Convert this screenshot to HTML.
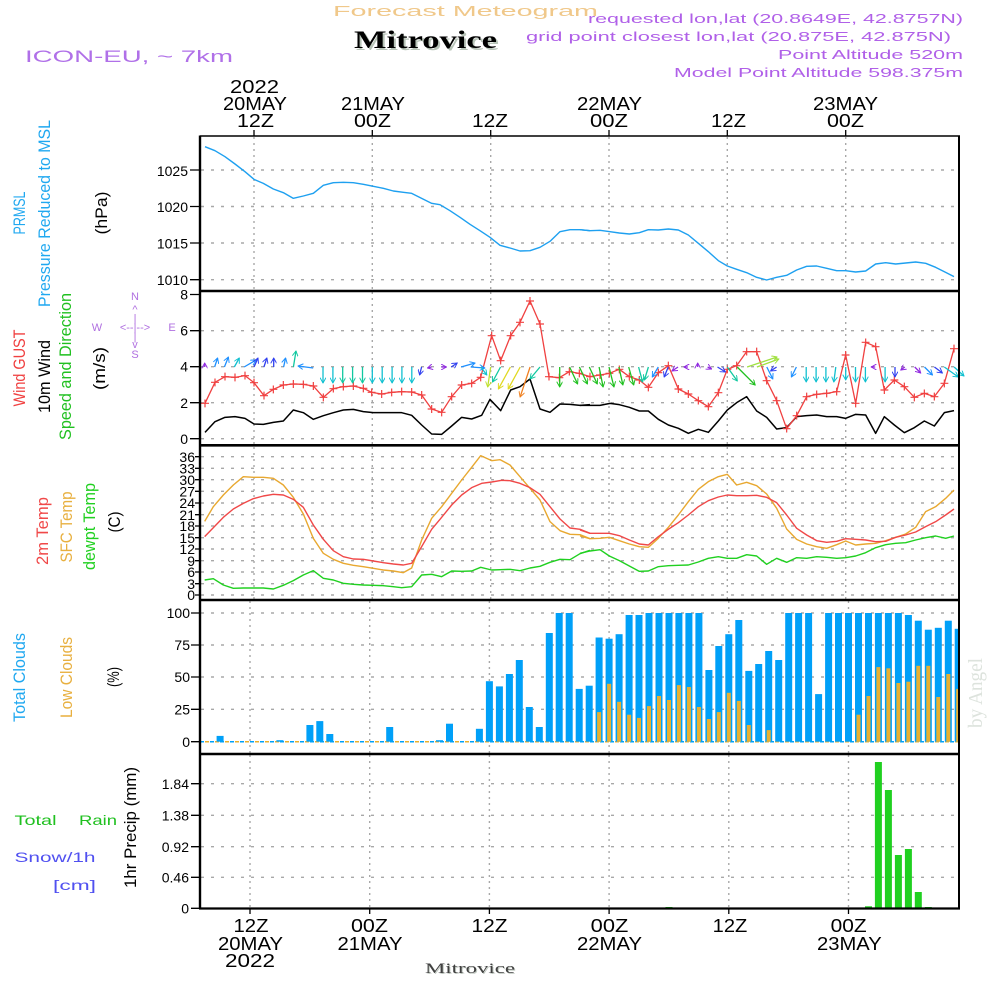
<!DOCTYPE html>
<html><head><meta charset="utf-8"><style>
html,body{margin:0;padding:0;background:#fff;}
svg{display:block;font-family:"Liberation Sans",sans-serif;}
.gh{stroke:#a8a8a8;stroke-width:1.4;stroke-dasharray:3 7;fill:none}
.gv{stroke:#a8a8a8;stroke-width:1.4;stroke-dasharray:2 4;fill:none}
.ns{vector-effect:non-scaling-stroke;fill:none;stroke-linejoin:round}
.tk{stroke:#000;stroke-width:1.3}
</style></head><body>
<svg width="1000" height="1000" viewBox="0 0 1000 1000" xmlns="http://www.w3.org/2000/svg">
<defs>
<marker id="plus" markerUnits="userSpaceOnUse" viewBox="0 0 24 24" refX="12" refY="12" markerWidth="24" markerHeight="24" orient="0"><path d="M0 12H24M12 0V24" stroke="#f04040" stroke-width="3.6" fill="none"/></marker>
<marker id="a-purple" markerUnits="userSpaceOnUse" viewBox="0 0 10 10" refX="9" refY="5" markerWidth="6" markerHeight="6" orient="auto"><path d="M0 0L9 5L0 10" stroke="#9028e0" stroke-width="1.6" fill="none"/></marker>
<marker id="a-blue" markerUnits="userSpaceOnUse" viewBox="0 0 10 10" refX="9" refY="5" markerWidth="6" markerHeight="6" orient="auto"><path d="M0 0L9 5L0 10" stroke="#1e90ff" stroke-width="1.6" fill="none"/></marker>
<marker id="a-dblue" markerUnits="userSpaceOnUse" viewBox="0 0 10 10" refX="9" refY="5" markerWidth="6" markerHeight="6" orient="auto"><path d="M0 0L9 5L0 10" stroke="#3040f0" stroke-width="1.6" fill="none"/></marker>
<marker id="a-cyan" markerUnits="userSpaceOnUse" viewBox="0 0 10 10" refX="9" refY="5" markerWidth="6" markerHeight="6" orient="auto"><path d="M0 0L9 5L0 10" stroke="#10c0d0" stroke-width="1.6" fill="none"/></marker>
<marker id="a-teal" markerUnits="userSpaceOnUse" viewBox="0 0 10 10" refX="9" refY="5" markerWidth="6" markerHeight="6" orient="auto"><path d="M0 0L9 5L0 10" stroke="#10c8a0" stroke-width="1.6" fill="none"/></marker>
<marker id="a-green" markerUnits="userSpaceOnUse" viewBox="0 0 10 10" refX="9" refY="5" markerWidth="6" markerHeight="6" orient="auto"><path d="M0 0L9 5L0 10" stroke="#20c020" stroke-width="1.6" fill="none"/></marker>
<marker id="a-yellow" markerUnits="userSpaceOnUse" viewBox="0 0 10 10" refX="9" refY="5" markerWidth="6" markerHeight="6" orient="auto"><path d="M0 0L9 5L0 10" stroke="#e0d820" stroke-width="1.6" fill="none"/></marker>
<marker id="a-ygreen" markerUnits="userSpaceOnUse" viewBox="0 0 10 10" refX="9" refY="5" markerWidth="6" markerHeight="6" orient="auto"><path d="M0 0L9 5L0 10" stroke="#c0e030" stroke-width="1.6" fill="none"/></marker>
<marker id="a-orange" markerUnits="userSpaceOnUse" viewBox="0 0 10 10" refX="9" refY="5" markerWidth="6" markerHeight="6" orient="auto"><path d="M0 0L9 5L0 10" stroke="#f08020" stroke-width="1.6" fill="none"/></marker>
<marker id="a-lgreen" markerUnits="userSpaceOnUse" viewBox="0 0 10 10" refX="9" refY="5" markerWidth="6" markerHeight="6" orient="auto"><path d="M0 0L9 5L0 10" stroke="#a0e040" stroke-width="1.6" fill="none"/></marker>
</defs>

<!-- Header -->
<text x="333" y="16" font-size="15" fill="#f0c88a" textLength="265" lengthAdjust="spacingAndGlyphs">Forecast Meteogram</text>
<text x="356" y="50" font-size="25" font-weight="bold" fill="#b8c4b8" font-family="Liberation Serif, serif" textLength="143" lengthAdjust="spacingAndGlyphs">Mitrovice</text>
<text x="354" y="48" font-size="25" font-weight="bold" fill="#000" font-family="Liberation Serif, serif" textLength="143" lengthAdjust="spacingAndGlyphs">Mitrovice</text>
<g fill="#b060e8" font-size="13">
<text x="588" y="23" textLength="375" lengthAdjust="spacingAndGlyphs">requested lon,lat (20.8649E, 42.8757N)</text>
<text x="526" y="41" textLength="425" lengthAdjust="spacingAndGlyphs">grid point closest lon,lat (20.875E, 42.875N)</text>
<text x="778" y="59" textLength="185" lengthAdjust="spacingAndGlyphs">Point Altitude 520m</text>
<text x="674" y="77" textLength="289" lengthAdjust="spacingAndGlyphs">Model Point Altitude 598.375m</text>
</g>
<text x="25" y="62" font-size="17" fill="#b070e8" textLength="208" lengthAdjust="spacingAndGlyphs">ICON-EU, ~ 7km</text>

<!-- Top time labels -->
<g font-size="18" fill="#000">
<text x="230" y="93" textLength="49" lengthAdjust="spacingAndGlyphs">2022</text>
<text x="223" y="110" textLength="64" lengthAdjust="spacingAndGlyphs">20MAY</text>
<text x="237" y="127" textLength="37" lengthAdjust="spacingAndGlyphs">12Z</text>
<text x="341" y="110" textLength="64" lengthAdjust="spacingAndGlyphs">21MAY</text>
<text x="354" y="127" textLength="37" lengthAdjust="spacingAndGlyphs">00Z</text>
<text x="472" y="127" textLength="36" lengthAdjust="spacingAndGlyphs">12Z</text>
<text x="577" y="110" textLength="65" lengthAdjust="spacingAndGlyphs">22MAY</text>
<text x="590" y="127" textLength="38" lengthAdjust="spacingAndGlyphs">00Z</text>
<text x="711" y="127" textLength="35" lengthAdjust="spacingAndGlyphs">12Z</text>
<text x="813" y="110" textLength="65" lengthAdjust="spacingAndGlyphs">23MAY</text>
<text x="827" y="127" textLength="37" lengthAdjust="spacingAndGlyphs">00Z</text>
</g>
<g class="tk">
<line x1="254" y1="130" x2="254" y2="136"/><line x1="372.3" y1="130" x2="372.3" y2="136"/><line x1="490.7" y1="130" x2="490.7" y2="136"/>
<line x1="609" y1="130" x2="609" y2="136"/><line x1="727.3" y1="130" x2="727.3" y2="136"/><line x1="845.7" y1="130" x2="845.7" y2="136"/>
</g>

<!-- Bottom time labels -->
<g font-size="18" fill="#000">
<text x="233.5" y="932" textLength="35" lengthAdjust="spacingAndGlyphs">12Z</text>
<text x="218" y="950" textLength="65" lengthAdjust="spacingAndGlyphs">20MAY</text>
<text x="225" y="967" textLength="50" lengthAdjust="spacingAndGlyphs">2022</text>
<text x="351" y="932" textLength="37" lengthAdjust="spacingAndGlyphs">00Z</text>
<text x="337.5" y="950" textLength="65" lengthAdjust="spacingAndGlyphs">21MAY</text>
<text x="471.5" y="932" textLength="36" lengthAdjust="spacingAndGlyphs">12Z</text>
<text x="590.7" y="932" textLength="37.6" lengthAdjust="spacingAndGlyphs">00Z</text>
<text x="577" y="950" textLength="65" lengthAdjust="spacingAndGlyphs">22MAY</text>
<text x="712.7" y="932" textLength="34.6" lengthAdjust="spacingAndGlyphs">12Z</text>
<text x="830.7" y="932" textLength="36" lengthAdjust="spacingAndGlyphs">00Z</text>
<text x="817" y="950" textLength="64.7" lengthAdjust="spacingAndGlyphs">23MAY</text>
</g>
<text x="426" y="974" font-size="15" fill="#c0c8c0" font-family="Liberation Serif, serif" textLength="90" lengthAdjust="spacingAndGlyphs">Mitrovice</text>
<text x="425" y="973" font-size="15" fill="#404040" font-family="Liberation Serif, serif" textLength="90" lengthAdjust="spacingAndGlyphs">Mitrovice</text>
<g class="tk">
<line x1="250" y1="908" x2="250" y2="914"/><line x1="369.7" y1="908" x2="369.7" y2="914"/><line x1="489.4" y1="908" x2="489.4" y2="914"/>
<line x1="609.1" y1="908" x2="609.1" y2="914"/><line x1="728.8" y1="908" x2="728.8" y2="914"/><line x1="848.5" y1="908" x2="848.5" y2="914"/>
</g>

<!-- Grid: top three panels verticals -->
<g class="gv">
<path d="M254 137V290M372.3 137V290M490.7 137V290M609 137V290M727.3 137V290M845.7 137V290"/>
<path d="M254 292V444M372.3 292V444M490.7 292V444M609 292V444M727.3 292V444M845.7 292V444"/>
<path d="M254 447V599M372.3 447V599M490.7 447V599M609 447V599M727.3 447V599M845.7 447V599"/>
<path d="M250 601V753M369.7 601V753M489.4 601V753M609.1 601V753M728.8 601V753M848.5 601V753"/>
<path d="M250 755V907M369.7 755V907M489.4 755V907M609.1 755V907M728.8 755V907M848.5 755V907"/>
</g>
<g class="gh">
<path d="M201 170H958M201 206.5H958M201 243H958M201 279.7H958"/>
<path d="M201 330.7H958M201 366.7H958M201 402.7H958M201 438.7H958"/>
<path d="M201 456.7H958M201 468.3H958M201 479.7H958M201 491.3H958M201 503H958M201 514.7H958M201 526H958M201 537.7H958M201 549H958M201 560.7H958M201 572H958M201 583.7H958M201 595H958"/>
<path d="M201 613H958M201 645H958M201 677H958M201 709.3H958"/>
<path d="M201 783.7H958M201 815.3H958M201 846.7H958M201 877.3H958"/>
</g>

<!-- Y tick marks & labels -->
<g class="tk">
<path d="M190 170H200M190 206.5H200M190 243H200M190 279.7H200"/>
<path d="M190 294.5H200M190 330.7H200M190 366.7H200M190 402.7H200M190 438.7H200"/>
<path d="M195 456.7H200M195 468.3H200M195 479.7H200M195 491.3H200M195 503H200M195 514.7H200M195 526H200M195 537.7H200M195 549H200M195 560.7H200M195 572H200M195 583.7H200M195 595H200"/>
<path d="M191 613H200M191 645H200M191 677H200M191 709.3H200M191 741.7H200"/>
<path d="M191 783.7H200M191 815.3H200M191 846.7H200M191 877.3H200M191 908.3H200"/>
</g>
<g font-size="14" fill="#000" text-anchor="end">
<text x="188" y="176">1025</text><text x="188" y="212">1020</text><text x="188" y="248.5">1015</text><text x="188" y="285">1010</text>
<text x="188" y="299.5">8</text><text x="188" y="335.5">6</text><text x="188" y="371.5">4</text><text x="188" y="408">2</text><text x="188" y="444">0</text>
<text x="195" y="462">36</text><text x="195" y="473.5">33</text><text x="195" y="485">30</text><text x="195" y="496.5">27</text><text x="195" y="508">24</text><text x="195" y="520">21</text><text x="195" y="531">18</text><text x="195" y="543">15</text><text x="195" y="554">12</text><text x="195" y="566">9</text><text x="195" y="577">6</text><text x="195" y="589">3</text><text x="195" y="600">0</text>
<text x="190" y="618">100</text><text x="190" y="650">75</text><text x="190" y="682">50</text><text x="190" y="714.5">25</text><text x="190" y="747">0</text>
<text x="189" y="789">1.84</text><text x="189" y="820.5">1.38</text><text x="189" y="852">0.92</text><text x="189" y="882.5">0.46</text><text x="189" y="913.5">0</text>
</g>

<!-- Rotated axis titles -->
<g font-size="17" lengthAdjust="spacingAndGlyphs" text-anchor="middle">
<text transform="translate(25,213) rotate(-90)" fill="#20a8f0" textLength="43" lengthAdjust="spacingAndGlyphs">PRMSL</text>
<text transform="translate(50,213.5) rotate(-90)" fill="#20a8f0" textLength="187" lengthAdjust="spacingAndGlyphs">Pressure Reduced to MSL</text>
<text transform="translate(107,213) rotate(-90)" fill="#000" textLength="43" lengthAdjust="spacingAndGlyphs">(hPa)</text>
<text transform="translate(25,368) rotate(-90)" fill="#f04040" textLength="77" lengthAdjust="spacingAndGlyphs">Wind GUST</text>
<text transform="translate(50,376.5) rotate(-90)" fill="#000" textLength="73" lengthAdjust="spacingAndGlyphs">10m Wind</text>
<text transform="translate(71,366.5) rotate(-90)" fill="#20c020" textLength="147" lengthAdjust="spacingAndGlyphs">Speed and Direction</text>
<text transform="translate(105,368.5) rotate(-90)" fill="#000" textLength="43" lengthAdjust="spacingAndGlyphs">(m/s)</text>
<text transform="translate(48,531) rotate(-90)" fill="#f04848" textLength="68" lengthAdjust="spacingAndGlyphs">2m Temp</text>
<text transform="translate(72,527) rotate(-90)" fill="#e8b040" textLength="71" lengthAdjust="spacingAndGlyphs">SFC Temp</text>
<text transform="translate(95,526.5) rotate(-90)" fill="#20d020" textLength="87" lengthAdjust="spacingAndGlyphs">dewpt Temp</text>
<text transform="translate(120,522) rotate(-90)" fill="#000" textLength="21" lengthAdjust="spacingAndGlyphs">(C)</text>
<text transform="translate(25,677.5) rotate(-90)" fill="#20a8f0" textLength="89" lengthAdjust="spacingAndGlyphs">Total Clouds</text>
<text transform="translate(72,677.5) rotate(-90)" fill="#e8b040" textLength="81" lengthAdjust="spacingAndGlyphs">Low Clouds</text>
<text transform="translate(119,677) rotate(-90)" fill="#000" textLength="20" lengthAdjust="spacingAndGlyphs">(%)</text>
<text transform="translate(136,827.5) rotate(-90)" fill="#000" textLength="121" lengthAdjust="spacingAndGlyphs">1hr Precip (mm)</text>
</g>
<text transform="translate(982,693) rotate(-90)" text-anchor="middle" font-size="20" fill="#dde3dd" font-family="Liberation Serif, serif" textLength="70" lengthAdjust="spacingAndGlyphs">by Angel</text>

<!-- compass -->
<g fill="#b070e0" font-size="11" text-anchor="middle">
<text x="135" y="300">N</text><text x="135" y="313">^</text><text x="135" y="322">|</text>
<text x="97" y="331">W</text><text x="135" y="331">&lt;--|--&gt;</text><text x="172" y="331">E</text>
<text x="135" y="340">|</text><text x="135" y="348">v</text><text x="135" y="358">S</text>
</g>
<g fill="#20c020" font-size="14">
<text x="14.5" y="825" textLength="42" lengthAdjust="spacingAndGlyphs">Total</text>
<text x="79" y="825" textLength="38" lengthAdjust="spacingAndGlyphs">Rain</text>
</g>
<g fill="#5050f0" font-size="14">
<text x="14.5" y="862" textLength="81" lengthAdjust="spacingAndGlyphs">Snow/1h</text>
<text x="53" y="890" textLength="43" lengthAdjust="spacingAndGlyphs">[cm]</text>
</g>

<!-- Pressure -->
<g transform="translate(190,130) scale(0.333333)">
<polyline class="ns" stroke="#1ea0f0" stroke-width="1.4" points="45,50 75,62 105,80 135,102 165,125 192,148 220,160 250,177 280,188 310,205 340,198 370,190 400,166 430,158 460,157 490,158 520,163 550,169 580,175 610,183 640,187 665,190 695,205 725,220 750,224 780,242 810,262 840,283 870,302 900,322 930,346 960,354 990,363 1020,362 1050,352 1080,334 1110,305 1140,299 1170,299 1200,302"/>
<polyline class="ns" stroke="#000" stroke-width="1.5" points="45,907 75,875 105,862 135,860 165,865 192,882 220,883 250,877 280,873 310,840 340,848 370,868 400,857 430,848 460,840 490,838 520,845 550,848 580,848 610,848 635,848 665,856 695,885 725,912 755,913 785,888 815,862 845,867 875,856 900,808 932,842 962,780 990,770 1020,747 1050,837 1080,847 1110,822 1140,823 1170,826 1200,824"/>
<polyline class="ns" stroke="#f04040" stroke-width="1.3" marker-start="url(#plus)" marker-mid="url(#plus)" marker-end="url(#plus)" points="45,820 75,757 105,740 135,742 165,737 192,758 222,797 250,778 280,765 310,762 340,763 370,768 400,802 430,776 460,770 490,768 520,775 545,787 575,792 605,787 635,785 665,786 695,795 725,837 755,847 785,800 815,765 845,760 872,742 905,617 932,692 962,617 990,577 1020,513 1050,582 1077,740 1108,743 1138,725 1168,730"/>
</g>
<g transform="translate(580,130) scale(0.333333)">
<polyline class="ns" stroke="#1ea0f0" stroke-width="1.4" points="0,299 30,302 60,301 90,305 118,309 148,312 178,308 205,299 235,300 265,297 295,300 325,315 355,340 385,365 415,392 442,408 470,418 500,428 530,442 560,450 590,442 620,436 650,420 680,409 710,408 740,415 770,422 797,422 827,426 857,423 887,402 917,398 947,402 977,399 1007,396 1037,400 1067,412 1097,427 1122,440"/>
<polyline class="ns" stroke="#000" stroke-width="1.5" points="0,826 30,826 60,826 90,820 118,824 148,832 178,843 205,843 235,868 265,885 295,895 325,910 355,898 385,907 415,873 442,840 470,818 500,800 530,843 560,862 590,897 620,893 650,860 680,857 710,855 740,860 770,860 797,865 827,853 857,855 887,910 913,860 943,885 973,908 1003,893 1033,873 1063,888 1093,848 1122,842"/>
<polyline class="ns" stroke="#f04040" stroke-width="1.3" marker-mid="url(#plus)" marker-end="url(#plus)" points="-2,730 30,740 60,735 88,730 118,718 148,740 178,750 205,772 235,728 265,707 295,777 325,792 355,812 385,830 415,788 442,718 470,707 500,665 530,665 560,752 590,812 620,896 650,857 680,800 710,793 740,790 770,785 797,675 827,820 857,637 887,650 913,780 943,750 973,770 1003,802 1033,790 1063,800 1093,760 1122,656"/>
</g>

<!-- Wind arrows -->
<g stroke-width="1.3" fill="none">
<line x1="204.7" y1="367" x2="204.7" y2="363" stroke="#9028e0" marker-end="url(#a-purple)"/>
<line x1="214.6" y1="367" x2="217.6" y2="358" stroke="#1e90ff" marker-end="url(#a-blue)"/>
<line x1="224.4" y1="367" x2="228.4" y2="357" stroke="#1e90ff" marker-end="url(#a-blue)"/>
<line x1="234.3" y1="367" x2="239.3" y2="358" stroke="#10c0d0" marker-end="url(#a-cyan)"/>
<line x1="244.1" y1="367" x2="256.1" y2="360" stroke="#1e90ff" marker-end="url(#a-blue)"/>
<line x1="254" y1="367" x2="258" y2="358" stroke="#3040f0" marker-end="url(#a-dblue)"/>
<line x1="263.9" y1="367" x2="266.9" y2="358" stroke="#3040f0" marker-end="url(#a-dblue)"/>
<line x1="273.7" y1="367" x2="273.7" y2="358" stroke="#3040f0" marker-end="url(#a-dblue)"/>
<line x1="283.6" y1="367" x2="285.6" y2="358" stroke="#1e90ff" marker-end="url(#a-blue)"/>
<line x1="293.4" y1="367" x2="296" y2="351" stroke="#10c8a0" marker-end="url(#a-teal)"/>
<line x1="313.2" y1="368" x2="298" y2="366" stroke="#1e90ff" marker-end="url(#a-blue)"/>
<line x1="323" y1="367" x2="323" y2="383" stroke="#10c0d0" marker-end="url(#a-cyan)"/>
<line x1="332.9" y1="367" x2="332.9" y2="383" stroke="#10c0d0" marker-end="url(#a-cyan)"/>
<line x1="342.7" y1="367" x2="342.7" y2="383" stroke="#10c8a0" marker-end="url(#a-teal)"/>
<line x1="352.6" y1="367" x2="352.6" y2="383" stroke="#10c8a0" marker-end="url(#a-teal)"/>
<line x1="362.5" y1="367" x2="362.5" y2="383" stroke="#10c8a0" marker-end="url(#a-teal)"/>
<line x1="372.3" y1="367" x2="372.3" y2="383" stroke="#10c0d0" marker-end="url(#a-cyan)"/>
<line x1="382.2" y1="367" x2="382.2" y2="383" stroke="#10c0d0" marker-end="url(#a-cyan)"/>
<line x1="392.1" y1="367" x2="392.1" y2="383" stroke="#10c0d0" marker-end="url(#a-cyan)"/>
<line x1="401.9" y1="367" x2="401.9" y2="383" stroke="#10c0d0" marker-end="url(#a-cyan)"/>
<line x1="411.8" y1="367" x2="411.8" y2="383" stroke="#10c0d0" marker-end="url(#a-cyan)"/>
<line x1="421.6" y1="367" x2="419.6" y2="375" stroke="#3040f0" marker-end="url(#a-dblue)"/>
<line x1="431.5" y1="367" x2="427.5" y2="368" stroke="#9028e0" marker-end="url(#a-purple)"/>
<line x1="441.4" y1="367" x2="446.4" y2="367" stroke="#9028e0" marker-end="url(#a-purple)"/>
<line x1="451.2" y1="367" x2="457.2" y2="363" stroke="#3040f0" marker-end="url(#a-dblue)"/>
<line x1="461.1" y1="367" x2="475.1" y2="363" stroke="#1e90ff" marker-end="url(#a-blue)"/>
<line x1="470.9" y1="367" x2="484.9" y2="368" stroke="#1e90ff" marker-end="url(#a-blue)"/>
<line x1="480.8" y1="367" x2="486.8" y2="375" stroke="#10c0d0" marker-end="url(#a-cyan)"/>
<line x1="490.7" y1="367" x2="487.7" y2="387" stroke="#c0e030" marker-end="url(#a-ygreen)"/>
<line x1="500.5" y1="367" x2="492.5" y2="382" stroke="#10c8a0" marker-end="url(#a-teal)"/>
<line x1="510.4" y1="367" x2="498.4" y2="389" stroke="#e0d820" marker-end="url(#a-yellow)"/>
<line x1="520.2" y1="367" x2="508.2" y2="389" stroke="#e0d820" marker-end="url(#a-yellow)"/>
<line x1="530.1" y1="367" x2="520.1" y2="397" stroke="#f08020" marker-end="url(#a-orange)"/>
<line x1="540" y1="367" x2="530" y2="379" stroke="#10c8a0" marker-end="url(#a-teal)"/>
<line x1="559.7" y1="367" x2="559.7" y2="387" stroke="#20c020" marker-end="url(#a-green)"/>
<line x1="569.6" y1="367" x2="577.6" y2="384" stroke="#20c020" marker-end="url(#a-green)"/>
<line x1="579.4" y1="367" x2="587.4" y2="384" stroke="#20c020" marker-end="url(#a-green)"/>
<line x1="589.3" y1="367" x2="597.3" y2="384" stroke="#20c020" marker-end="url(#a-green)"/>
<line x1="599.1" y1="367" x2="603.1" y2="387" stroke="#20c020" marker-end="url(#a-green)"/>
<line x1="609" y1="367" x2="614" y2="387" stroke="#20c020" marker-end="url(#a-green)"/>
<line x1="618.9" y1="367" x2="622.9" y2="385" stroke="#20c020" marker-end="url(#a-green)"/>
<line x1="628.7" y1="367" x2="633.7" y2="385" stroke="#20c020" marker-end="url(#a-green)"/>
<line x1="638.6" y1="367" x2="642.6" y2="382" stroke="#10c8a0" marker-end="url(#a-teal)"/>
<line x1="648.4" y1="367" x2="644.4" y2="380" stroke="#10c8a0" marker-end="url(#a-teal)"/>
<line x1="658.3" y1="367" x2="652.3" y2="377" stroke="#1e90ff" marker-end="url(#a-blue)"/>
<line x1="668.2" y1="367" x2="664.2" y2="377" stroke="#3040f0" marker-end="url(#a-dblue)"/>
<line x1="678" y1="367" x2="672" y2="371" stroke="#9028e0" marker-end="url(#a-purple)"/>
<line x1="687.9" y1="367" x2="683.9" y2="367" stroke="#9028e0" marker-end="url(#a-purple)"/>
<line x1="697.7" y1="367" x2="697.7" y2="363" stroke="#9028e0" marker-end="url(#a-purple)"/>
<line x1="707.6" y1="367" x2="711.6" y2="369" stroke="#9028e0" marker-end="url(#a-purple)"/>
<line x1="717.5" y1="367" x2="725.5" y2="372" stroke="#3040f0" marker-end="url(#a-dblue)"/>
<line x1="727.3" y1="367" x2="737.3" y2="381" stroke="#10c8a0" marker-end="url(#a-teal)"/>
<line x1="737.2" y1="367" x2="755.2" y2="385" stroke="#20c020" marker-end="url(#a-green)"/>
<line x1="747.1" y1="367" x2="777.1" y2="357" stroke="#a0e040" marker-end="url(#a-lgreen)"/>
<line x1="756.9" y1="367" x2="778.9" y2="359" stroke="#a0e040" marker-end="url(#a-lgreen)"/>
<line x1="766.8" y1="367" x2="772.8" y2="379" stroke="#1e90ff" marker-end="url(#a-blue)"/>
<line x1="776.6" y1="367" x2="770.6" y2="371" stroke="#3040f0" marker-end="url(#a-dblue)"/>
<line x1="796.4" y1="367" x2="791.4" y2="377" stroke="#1e90ff" marker-end="url(#a-blue)"/>
<line x1="806.2" y1="367" x2="806.2" y2="382" stroke="#10c0d0" marker-end="url(#a-cyan)"/>
<line x1="816.1" y1="367" x2="816.1" y2="382" stroke="#10c0d0" marker-end="url(#a-cyan)"/>
<line x1="825.9" y1="367" x2="825.9" y2="382" stroke="#10c0d0" marker-end="url(#a-cyan)"/>
<line x1="835.8" y1="367" x2="833.8" y2="382" stroke="#10c0d0" marker-end="url(#a-cyan)"/>
<line x1="845.7" y1="367" x2="845.7" y2="380" stroke="#10c0d0" marker-end="url(#a-cyan)"/>
<line x1="855.5" y1="367" x2="855.5" y2="382" stroke="#10c0d0" marker-end="url(#a-cyan)"/>
<line x1="865.4" y1="367" x2="865.4" y2="382" stroke="#10c0d0" marker-end="url(#a-cyan)"/>
<line x1="875.2" y1="367" x2="871.2" y2="367" stroke="#9028e0" marker-end="url(#a-purple)"/>
<line x1="885.1" y1="367" x2="885.1" y2="382" stroke="#10c0d0" marker-end="url(#a-cyan)"/>
<line x1="895" y1="367" x2="895" y2="377" stroke="#3040f0" marker-end="url(#a-dblue)"/>
<line x1="904.8" y1="367" x2="900.8" y2="370" stroke="#9028e0" marker-end="url(#a-purple)"/>
<line x1="914.7" y1="367" x2="920.7" y2="373" stroke="#9028e0" marker-end="url(#a-purple)"/>
<line x1="924.5" y1="367" x2="932.5" y2="375" stroke="#1e90ff" marker-end="url(#a-blue)"/>
<line x1="934.4" y1="367" x2="942.4" y2="373" stroke="#3040f0" marker-end="url(#a-dblue)"/>
<line x1="944.3" y1="367" x2="958.3" y2="377" stroke="#10c0d0" marker-end="url(#a-cyan)"/>
<line x1="954.1" y1="367" x2="964" y2="376" stroke="#10c0d0" marker-end="url(#a-cyan)"/>
</g>

<!-- Temperatures -->
<g transform="translate(190,440) scale(0.333333)">
<polyline class="ns" stroke="#e8a830" stroke-width="1.4" points="44,244 70,200 100,165 130,135 160,110 190,112 220,112 250,115 280,135 310,172 340,222 370,295 400,340 430,358 460,370 490,376 520,380 550,385 580,390 610,393 640,398 665,384 695,300 725,235 755,200 785,160 815,120 845,82 872,47 905,62 930,59 960,75 990,110 1020,145 1050,180 1080,245 1110,272 1140,283 1170,284 1200,296"/>
<polyline class="ns" stroke="#f04848" stroke-width="1.4" points="44,290 100,232 130,207 160,190 190,176 220,168 250,163 280,165 310,178 340,202 370,255 400,298 430,332 460,350 490,357 520,358 550,363 580,368 610,372 640,375 665,370 695,320 725,268 755,232 785,195 815,165 845,143 875,130 905,126 935,121 960,122 990,130 1020,143 1050,163 1080,200 1110,237 1140,264 1170,268 1200,280"/>
<polyline class="ns" stroke="#20d020" stroke-width="1.4" points="44,420 70,416 100,435 130,445 160,444 190,444 220,444 250,447 280,436 310,422 340,405 370,392 400,415 430,420 460,430 490,433 520,435 550,436 580,437 610,440 635,443 665,440 695,405 725,403 755,410 785,393 815,394 845,393 872,382 905,390 930,389 960,388 990,392 1020,384 1050,379 1080,367 1110,358 1140,359 1170,341 1200,331"/>
</g>
<g transform="translate(580,440) scale(0.333333)">
<polyline class="ns" stroke="#e8a830" stroke-width="1.4" points="0,288 30,296 60,295 88,292 118,302 148,312 178,320 205,322 235,295 265,262 295,225 325,185 355,148 385,125 415,110 442,103 470,135 500,127 530,137 560,162 590,205 620,267 650,298 680,312 710,320 740,325 770,314 797,303 827,315 857,312 887,310 917,302 947,292 977,282 1007,262 1037,215 1067,200 1097,175 1122,150"/>
<polyline class="ns" stroke="#f04848" stroke-width="1.4" points="0,270 30,280 60,280 88,280 118,287 148,300 178,312 205,315 235,290 265,268 295,248 325,225 355,200 385,182 415,171 442,165 470,167 500,167 530,166 560,172 590,188 620,225 650,265 680,285 710,302 740,307 770,304 797,296 827,298 857,300 887,305 917,304 947,292 977,285 1007,276 1037,260 1067,245 1097,225 1122,207"/>
<polyline class="ns" stroke="#20d020" stroke-width="1.4" points="0,340 30,333 60,329 88,348 118,362 148,378 178,394 205,393 235,380 265,377 295,376 325,375 355,366 385,355 415,350 442,355 470,355 500,344 530,348 560,373 590,355 620,367 650,353 680,355 710,350 740,352 770,355 797,353 827,348 857,338 887,323 917,314 947,310 977,308 1007,300 1037,293 1067,288 1097,295 1122,288"/>
</g>

<!-- Clouds -->
<line x1="200" y1="741.7" x2="959" y2="741.7" stroke="#00a0f8" stroke-width="1.5" stroke-dasharray="4 6"/>
<line x1="205" y1="741.7" x2="959" y2="741.7" stroke="#e8b030" stroke-width="1.5" stroke-dasharray="4 6"/>
<g fill="#00a0f8">
<rect x="216.6" y="735.9" width="7" height="5.8"/>
<rect x="276.4" y="740.2" width="7" height="1.5"/>
<rect x="306.4" y="725" width="7" height="16.7"/>
<rect x="316.3" y="721.1" width="7" height="20.6"/>
<rect x="326.3" y="734" width="7" height="7.7"/>
<rect x="386.2" y="727" width="7" height="14.7"/>
<rect x="436" y="740.2" width="7" height="1.5"/>
<rect x="446" y="723.7" width="7" height="18"/>
<rect x="475.9" y="728.8" width="7" height="12.9"/>
<rect x="485.9" y="681.2" width="7" height="60.5"/>
<rect x="495.9" y="686.4" width="7" height="55.3"/>
<rect x="505.9" y="674" width="7" height="67.7"/>
<rect x="515.8" y="660" width="7" height="81.7"/>
<rect x="525.8" y="707" width="7" height="34.7"/>
<rect x="535.8" y="727" width="7" height="14.7"/>
<rect x="545.8" y="633" width="7" height="108.7"/>
<rect x="555.7" y="613" width="7" height="128.7"/>
<rect x="565.7" y="613" width="7" height="128.7"/>
<rect x="575.7" y="688.9" width="7" height="52.8"/>
<rect x="585.7" y="685.7" width="7" height="56"/>
<rect x="595.6" y="637.5" width="7" height="104.2"/>
<rect x="605.6" y="638.7" width="7" height="103"/>
<rect x="615.6" y="634.2" width="7" height="107.5"/>
<rect x="625.6" y="615" width="7" height="126.7"/>
<rect x="635.5" y="615" width="7" height="126.7"/>
<rect x="645.5" y="613" width="7" height="128.7"/>
<rect x="655.5" y="613" width="7" height="128.7"/>
<rect x="665.5" y="613" width="7" height="128.7"/>
<rect x="675.4" y="613" width="7" height="128.7"/>
<rect x="685.4" y="613" width="7" height="128.7"/>
<rect x="695.4" y="613" width="7" height="128.7"/>
<rect x="705.4" y="670" width="7" height="71.7"/>
<rect x="715.3" y="646" width="7" height="95.7"/>
<rect x="725.3" y="634.2" width="7" height="107.5"/>
<rect x="735.3" y="620" width="7" height="121.7"/>
<rect x="745.3" y="670.9" width="7" height="70.8"/>
<rect x="755.2" y="664" width="7" height="77.7"/>
<rect x="765.2" y="651" width="7" height="90.7"/>
<rect x="775.2" y="660" width="7" height="81.7"/>
<rect x="785.2" y="613" width="7" height="128.7"/>
<rect x="795.1" y="613" width="7" height="128.7"/>
<rect x="805.1" y="613" width="7" height="128.7"/>
<rect x="815.1" y="694.1" width="7" height="47.6"/>
<rect x="825.1" y="613" width="7" height="128.7"/>
<rect x="835" y="613" width="7" height="128.7"/>
<rect x="845" y="613" width="7" height="128.7"/>
<rect x="855" y="613" width="7" height="128.7"/>
<rect x="865" y="613" width="7" height="128.7"/>
<rect x="874.9" y="613" width="7" height="128.7"/>
<rect x="884.9" y="613" width="7" height="128.7"/>
<rect x="894.9" y="613" width="7" height="128.7"/>
<rect x="904.9" y="615" width="7" height="126.7"/>
<rect x="914.8" y="620.7" width="7" height="121"/>
<rect x="924.8" y="629.7" width="7" height="112"/>
<rect x="934.8" y="627.8" width="7" height="113.9"/>
<rect x="944.8" y="620.7" width="7" height="121"/>
<rect x="954.7" y="628.8" width="4.3" height="112.9"/>
</g>
<g fill="#e8b030">
<rect x="597.1" y="712.1" width="4" height="29.6"/>
<rect x="607.1" y="683.8" width="4" height="57.9"/>
<rect x="617.1" y="701.8" width="4" height="39.9"/>
<rect x="627.1" y="714.7" width="4" height="27"/>
<rect x="637" y="717.9" width="4" height="23.8"/>
<rect x="647" y="706.1" width="4" height="35.6"/>
<rect x="657" y="696" width="4" height="45.7"/>
<rect x="667" y="700" width="4" height="41.7"/>
<rect x="676.9" y="685.1" width="4" height="56.6"/>
<rect x="686.9" y="687" width="4" height="54.7"/>
<rect x="696.9" y="707" width="4" height="34.7"/>
<rect x="706.9" y="719" width="4" height="22.7"/>
<rect x="716.8" y="712.1" width="4" height="29.6"/>
<rect x="726.8" y="692.8" width="4" height="48.9"/>
<rect x="736.8" y="700.9" width="4" height="40.8"/>
<rect x="746.8" y="725" width="4" height="16.7"/>
<rect x="766.7" y="730.1" width="4" height="11.6"/>
<rect x="856.5" y="714.7" width="4" height="27"/>
<rect x="866.5" y="696" width="4" height="45.7"/>
<rect x="876.4" y="667.1" width="4" height="74.6"/>
<rect x="886.4" y="668.3" width="4" height="73.4"/>
<rect x="896.4" y="683" width="4" height="58.7"/>
<rect x="906.4" y="681.7" width="4" height="60"/>
<rect x="916.3" y="665.8" width="4" height="75.9"/>
<rect x="926.3" y="665.8" width="4" height="75.9"/>
<rect x="936.3" y="697" width="4" height="44.7"/>
<rect x="946.3" y="674" width="4" height="67.7"/>
<rect x="956.2" y="688.9" width="2.8" height="52.8"/>
</g>

<!-- Rain -->
<g fill="#20d020">
<rect x="665.5" y="907" width="7" height="1.3"/>
<rect x="865" y="906.3" width="7" height="2"/>
<rect x="874.9" y="762" width="7" height="146.3"/>
<rect x="884.9" y="790" width="7" height="118.3"/>
<rect x="894.9" y="855" width="7" height="53.3"/>
<rect x="904.9" y="849" width="7" height="59.3"/>
<rect x="914.8" y="892" width="7" height="16.3"/>
<rect x="924.8" y="907" width="7" height="1.3"/>
</g>

<!-- Panel frames -->
<g stroke="#000" fill="none">
<line x1="200" y1="136" x2="960" y2="136" stroke-width="1.6"/>
<line x1="200" y1="135.5" x2="200" y2="909" stroke-width="2.4"/>
<line x1="959" y1="135.5" x2="959" y2="909" stroke-width="2"/>
<line x1="199" y1="291" x2="960" y2="291" stroke-width="2.6"/>
<line x1="199" y1="445.3" x2="960" y2="445.3" stroke-width="2.6"/>
<line x1="199" y1="600" x2="960" y2="600" stroke-width="2.6"/>
<line x1="199" y1="754" x2="960" y2="754" stroke-width="2.6"/>
<line x1="199" y1="908.5" x2="960" y2="908.5" stroke-width="2.2"/>
</g>
</svg>
</body></html>
